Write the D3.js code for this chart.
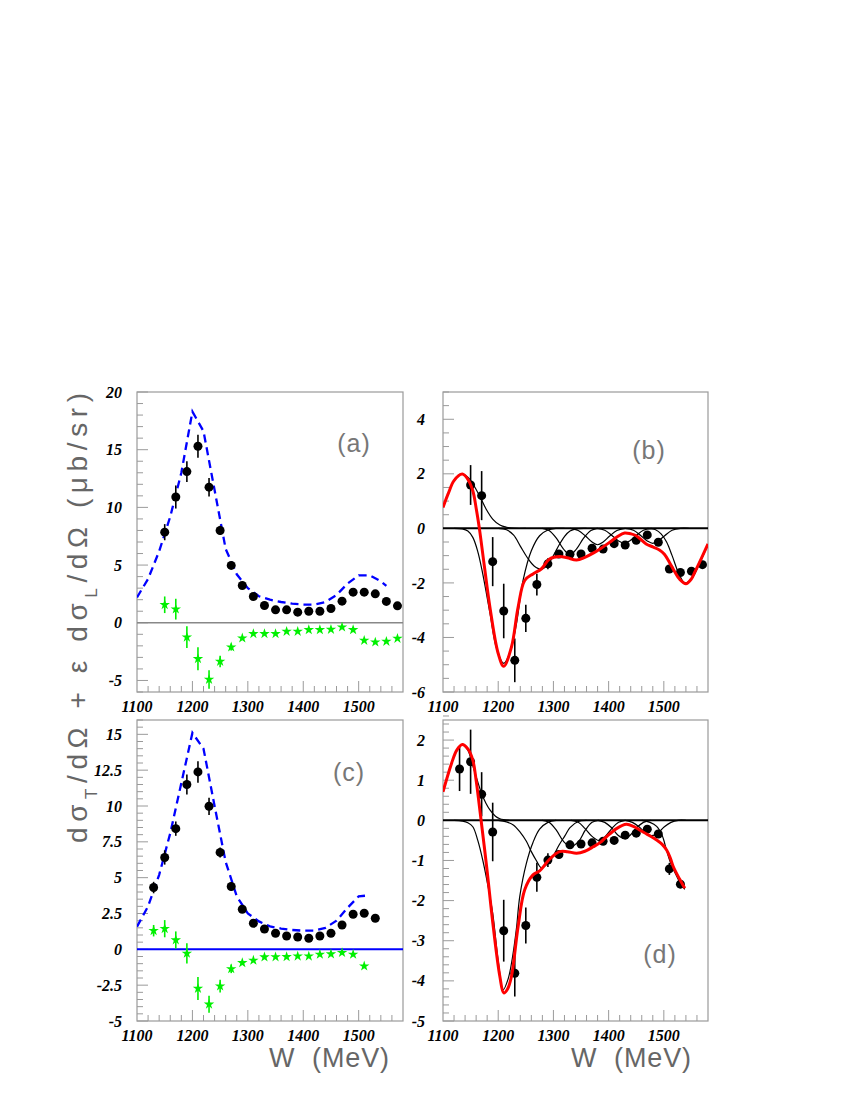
<!DOCTYPE html>
<html><head><meta charset="utf-8">
<script src="https://cdn.jsdelivr.net/npm/d3@7"></script>
<style>body{margin:0;background:#fff}svg{display:block}</style>
</head><body>
<script>
// ---------- DATA ----------
const wA = [1150,1170,1190,1210,1230,1250,1270,1290,1310,1330,1350,1370,1390,1410,1430,1450,1470,1490,1510,1530,1550,1570];
const aDots = [7.85,10.9,13.1,15.3,11.75,8.0,4.97,3.23,2.28,1.5,1.12,1.12,0.92,1.0,1.0,1.24,1.87,2.65,2.65,2.51,1.85,1.47];
const aDotsErr = [0.7,1.0,0.9,1.0,0.8,0.4,0.2,0.15,0.1,0.1,0.05,0.05,0.05,0.05,0.05,0.05,0.05,0.05,0.05,0.05,0.05,0.05];
const aStars = [1.56,1.18,-1.25,-3.12,-4.91,-3.35,-2.11,-1.33,-0.95,-0.95,-0.95,-0.75,-0.75,-0.61,-0.61,-0.58,-0.38,-0.61,-1.53,-1.68,-1.62,-1.36];
const aStarsErr = [0.72,0.9,0.94,1.0,0.8,0.5,0.3,0.15,0.1,0.05,0.05,0.05,0.05,0.05,0.05,0.05,0.05,0.05,0.05,0.05,0.05,0.05];
const aDashW = [1100,1120,1140,1160,1180,1200,1220,1240,1260,1280,1300,1320,1340,1360,1380,1400,1420,1440,1460,1480,1500,1520,1540,1550];
const aDashV = [2.2,3.8,6.2,9.2,13.0,18.3,16.6,11.5,6.4,4.2,3.0,2.3,2.0,1.8,1.65,1.58,1.58,1.8,2.4,3.4,4.1,4.1,3.6,3.2];

const wB = wA;
const bDots = [1.59,1.20,-1.22,-3.03,-4.84,-3.30,-2.06,-1.30,-0.94,-0.95,-0.94,-0.73,-0.76,-0.56,-0.61,-0.44,-0.24,-0.51,-1.49,-1.62,-1.57,-1.33];
const bDotsErr = [0.73,0.9,0.9,1.0,0.8,0.5,0.4,0.2,0.1,0.08,0.08,0.05,0.05,0.05,0.05,0.05,0.05,0.05,0.12,0.1,0.05,0.05];
const bRedW = [1100,1110,1120,1135,1145,1154,1160,1166,1175,1185,1200,1210,1224,1236,1248,1263,1278,1293,1311,1325,1342,1357,1372,1387,1402,1415,1429,1440,1450,1468,1480,1492,1501,1510,1520,1528,1540,1550,1556,1568,1580];
const bRedV = [0.77,1.3,1.75,1.99,1.8,1.38,0.75,-0.02,-1.4,-2.89,-4.59,-5.06,-4.35,-2.89,-1.91,-1.67,-1.49,-1.12,-1.03,-1.08,-1.16,-1.06,-0.91,-0.72,-0.51,-0.32,-0.17,-0.2,-0.27,-0.57,-0.68,-0.79,-0.95,-1.24,-1.6,-1.85,-2.03,-1.85,-1.61,-1.1,-0.57];
const bComp1 = [[1100,0.77],[1110,1.3],[1120,1.75],[1133,2.0],[1145,1.88],[1155,1.6],[1166,1.2],[1178,0.71],[1190,0.34],[1203,0.12],[1215,0.04],[1230,0],[1250,0]];
const bComp2 = [[1120,0],[1135,-0.02],[1145,-0.1],[1154,-0.33],[1163,-0.85],[1172,-1.67],[1185,-3.1],[1197,-4.4],[1210,-4.95],[1222,-4.5],[1233,-3.5],[1245,-1.91],[1260,-0.82],[1275,-0.27],[1290,-0.06],[1305,0],[1320,0]];
const bComp3 = [[1200,0],[1215,-0.05],[1228,-0.25],[1240,-0.65],[1252,-1.05],[1265,-1.38],[1278,-1.5],[1290,-1.33],[1300,-1.0],[1310,-0.62],[1320,-0.3],[1330,-0.1],[1345,-0.01],[1360,0]];
const bComp4 = [[1280,0],[1292,-0.08],[1305,-0.35],[1318,-0.75],[1330,-0.97],[1342,-0.75],[1355,-0.35],[1368,-0.08],[1380,0]];
const bComp5 = [[1330,0],[1345,-0.08],[1358,-0.28],[1370,-0.5],[1380,-0.6],[1390,-0.5],[1402,-0.28],[1415,-0.08],[1430,0]];
const bComp6 = [[1378,0],[1393,-0.07],[1406,-0.26],[1418,-0.46],[1428,-0.55],[1438,-0.46],[1450,-0.26],[1463,-0.07],[1478,0]];
const bComp7 = [[1430,0],[1445,-0.07],[1458,-0.26],[1470,-0.46],[1480,-0.55],[1490,-0.46],[1502,-0.26],[1515,-0.07],[1530,0],[1545,0]];
const bComp8 = [[1470,0],[1485,-0.05],[1495,-0.2],[1505,-0.5],[1515,-1.0],[1528,-1.7],[1538,-2.0],[1550,-1.85],[1560,-1.5],[1570,-1.05],[1580,-0.6]];

const wC = [1130,1150,1170,1190,1210,1230,1250,1270,1290,1310,1330,1350,1370,1390,1410,1430,1450,1470,1490,1510,1530];
const cDots = [4.31,6.41,8.42,11.5,12.38,9.98,6.76,4.38,2.8,1.82,1.42,1.12,0.93,0.86,0.77,0.93,1.12,1.70,2.45,2.52,2.17];
const cDotsErr = [0.4,0.5,0.5,0.7,0.75,0.6,0.35,0.3,0.15,0.1,0.05,0.05,0.05,0.05,0.05,0.05,0.05,0.05,0.05,0.05,0.05];
const wCStars = [1130,1150,1170,1190,1210,1230,1250,1270,1290,1310,1330,1350,1370,1390,1410,1430,1450,1470,1490,1510];
const cStars = [1.30,1.44,0.65,-0.28,-2.73,-3.83,-2.57,-1.36,-0.94,-0.77,-0.54,-0.53,-0.52,-0.48,-0.48,-0.35,-0.33,-0.23,-0.35,-1.17];
const cStarsErr = [0.4,0.6,0.6,0.7,0.8,0.6,0.45,0.3,0.1,0.05,0.05,0.05,0.05,0.05,0.05,0.05,0.05,0.05,0.05,0.05];
const cDashW = [1100,1120,1140,1160,1180,1200,1220,1240,1260,1280,1300,1320,1340,1360,1380,1400,1420,1440,1460,1480,1500,1515];
const cDashV = [1.58,3.0,5.2,8.1,11.6,15.1,14.0,10.0,6.1,3.7,2.5,1.95,1.6,1.45,1.35,1.3,1.3,1.5,2.0,2.9,3.7,3.75];

const wD = wC;
const dDots = [1.28,1.46,0.65,-0.29,-2.75,-3.81,-2.62,-1.42,-0.99,-0.85,-0.61,-0.59,-0.56,-0.52,-0.50,-0.37,-0.32,-0.22,-0.34,-1.21,-1.59];
const dDotsErr = [0.55,0.8,0.55,0.73,0.77,0.58,0.45,0.36,0.17,0.1,0.1,0.05,0.05,0.05,0.05,0.05,0.05,0.05,0.08,0.15,0.1];
const dRedW = [1100,1115,1125,1135,1145,1154,1160,1166,1179,1191,1203,1210,1217,1224,1236,1248,1263,1275,1293,1311,1325,1342,1357,1372,1385,1396,1415,1432,1445,1456,1470,1487,1497,1505,1512,1517,1528,1538];
const dRedV = [0.71,1.4,1.75,1.89,1.78,1.5,1.0,0.34,-1.15,-2.65,-3.89,-4.3,-4.2,-3.89,-2.65,-1.73,-1.36,-1.26,-0.97,-0.78,-0.78,-0.82,-0.77,-0.66,-0.55,-0.41,-0.2,-0.1,-0.15,-0.24,-0.35,-0.49,-0.6,-0.74,-0.95,-1.15,-1.45,-1.69];
const dComp1 = [[1100,0.71],[1115,1.4],[1125,1.75],[1135,1.88],[1145,1.75],[1154,1.36],[1162,1.0],[1170,0.67],[1178,0.42],[1185,0.26],[1195,0.1],[1203,0.04],[1220,0]];
const dComp2 = [[1120,0],[1135,-0.02],[1145,-0.06],[1154,-0.16],[1163,-0.5],[1172,-0.99],[1181,-1.6],[1190,-2.31],[1200,-3.5],[1209,-4.22],[1218,-3.95],[1226,-3.4],[1233,-2.7],[1239,-1.9],[1251,-1.07],[1263,-0.55],[1275,-0.22],[1290,-0.05],[1305,0]];
const dComp3 = [[1200,0],[1215,-0.04],[1228,-0.12],[1240,-0.3],[1251,-0.52],[1260,-0.78],[1269,-1.0],[1278,-1.18],[1290,-1.08],[1300,-0.88],[1310,-0.62],[1321,-0.38],[1330,-0.18],[1345,-0.03],[1360,0]];
const dComp4 = [[1280,0],[1292,-0.05],[1305,-0.24],[1318,-0.52],[1332,-0.66],[1346,-0.52],[1358,-0.24],[1370,-0.05],[1382,0]];
const dComp5 = [[1332,0],[1345,-0.05],[1357,-0.2],[1370,-0.4],[1382,-0.5],[1394,-0.4],[1406,-0.2],[1418,-0.05],[1430,0]];
const dComp6 = [[1380,0],[1393,-0.05],[1405,-0.18],[1417,-0.37],[1428,-0.45],[1439,-0.37],[1451,-0.18],[1463,-0.05],[1476,0]];
const dComp7 = [[1430,0],[1443,-0.05],[1455,-0.16],[1467,-0.32],[1478,-0.38],[1489,-0.32],[1501,-0.16],[1513,-0.05],[1526,0],[1540,0]];
const dComp8 = [[1460,0],[1475,-0.05],[1487,-0.15],[1497,-0.38],[1505,-0.75],[1512,-1.05],[1520,-1.3],[1528,-1.52],[1538,-1.72]];

const xTicks = [1100,1200,1300,1400,1500];
const aYTicks = [-5,0,5,10,15,20];
const bYTicks = [-6,-4,-2,0,2,4];
const cYTicks = [-5,-2.5,0,2.5,5,7.5,10,12.5,15];
const dYTicks = [-5,-4,-3,-2,-1,0,1,2];

// ---------- DRAW ----------
const svg = d3.select("body").append("svg").attr("width",850).attr("height",1100);
const FR = "#9a9a9a";

function panel(opt){
  const x = d3.scaleLinear().domain([1100,1580]).range([opt.x0,opt.x1]);
  const y = d3.scaleLinear().domain(opt.ydom).range([opt.y1,opt.y0]);
  const g = svg.append("g");
  const cid = "clip"+opt.id;
  svg.append("clipPath").attr("id",cid).append("rect")
    .attr("x",opt.x0).attr("y",opt.y0).attr("width",opt.x1-opt.x0).attr("height",opt.y1-opt.y0);
  g.append("rect").attr("x",opt.x0).attr("y",opt.y0).attr("width",opt.x1-opt.x0).attr("height",opt.y1-opt.y0)
    .attr("fill","none").attr("stroke",FR).attr("stroke-width",1.2);
  const xminor = d3.range(1120,1580,20);
  g.selectAll(null).data(xminor).enter().append("line")
    .attr("x1",d=>x(d)).attr("x2",d=>x(d)).attr("y1",opt.y1)
    .attr("y2",d=>opt.y1-(d%100===0?11:6)).attr("stroke",FR).attr("stroke-width",1);
  g.selectAll(null).data(xTicks).enter().append("text")
    .attr("x",d=>x(d)).attr("y",opt.y1+14).attr("dy","0.35em").attr("text-anchor","middle")
    .attr("font-family","Liberation Serif").attr("font-weight","bold").attr("font-style","italic")
    .attr("font-size",16).text(d=>d);
  const [ya,yb] = opt.ydom;
  const ym = d3.range(Math.round(ya/opt.ystep), Math.round(yb/opt.ystep)+1).map(k=>+(k*opt.ystep).toFixed(3));
  const isMajor = v => opt.yticks.some(t=>Math.abs(t-v)<1e-6);
  g.selectAll(null).data(ym).enter().append("line")
    .attr("x1",opt.x0).attr("x2",d=>opt.x0+(isMajor(d)?11:6))
    .attr("y1",d=>y(d)).attr("y2",d=>y(d)).attr("stroke",FR).attr("stroke-width",1);
  g.selectAll(null).data(opt.yticks).enter().append("text")
    .attr("x",opt.x0-opt.lblOff).attr("y",d=>y(d)).attr("dy","0.35em").attr("text-anchor","end")
    .attr("font-family","Liberation Serif").attr("font-weight","bold").attr("font-style","italic")
    .attr("font-size",16).text(d=>d);
  const pg = g.append("g").attr("clip-path",`url(#${cid})`);
  pg.append("line").attr("x1",opt.x0).attr("x2",opt.x1).attr("y1",y(0)).attr("y2",y(0))
    .attr("stroke",opt.zeroColor).attr("stroke-width",opt.zeroW);
  g.append("text").attr("x",opt.lx).attr("y",opt.ly).attr("dy","0.35em").attr("text-anchor","middle")
    .attr("font-family","Liberation Sans").attr("font-size",25).attr("fill","#777")
    .attr("letter-spacing",1).text(opt.letter);
  return {x,y,g:pg};
}

function dashed(p, W, V){
  p.g.append("path").datum(W.map((w,i)=>[w,V[i]]))
    .attr("d",d3.line().x(d=>p.x(d[0])).y(d=>p.y(d[1])))
    .attr("fill","none").attr("stroke","#0000ff").attr("stroke-width",2.3).attr("stroke-dasharray","8,5");
}
function smooth(p, pts, color, width){
  p.g.append("path").datum(pts)
    .attr("d",d3.line().x(d=>p.x(d[0])).y(d=>p.y(d[1])).curve(d3.curveCatmullRom.alpha(0.5)))
    .attr("fill","none").attr("stroke",color).attr("stroke-width",width).attr("stroke-linejoin","round");
}
function dots(p, W, V, E){
  const gg = p.g.append("g");
  W.forEach((w,i)=>{
    gg.append("line").attr("x1",p.x(w)).attr("x2",p.x(w)).attr("y1",p.y(V[i]-E[i])).attr("y2",p.y(V[i]+E[i]))
      .attr("stroke","#000").attr("stroke-width",1.6);
    gg.append("circle").attr("cx",p.x(w)).attr("cy",p.y(V[i])).attr("r",4.5).attr("fill","#000");
  });
}
function stars(p, W, V, E){
  const gg = p.g.append("g");
  const sym = d3.symbol().type(d3.symbolStar).size(34);
  W.forEach((w,i)=>{
    gg.append("line").attr("x1",p.x(w)).attr("x2",p.x(w)).attr("y1",p.y(V[i]-E[i])).attr("y2",p.y(V[i]+E[i]))
      .attr("stroke","#00f000").attr("stroke-width",1.6);
    gg.append("path").attr("d",sym).attr("transform",`translate(${p.x(w)},${p.y(V[i])})`).attr("fill","#00f000");
  });
}

const pa = panel({id:"a",x0:137,x1:403,y0:392,y1:692,ydom:[-6,20],ystep:1,yticks:aYTicks,lblOff:15,
  zeroColor:"#888",zeroW:1.6,letter:"(a)",lx:354,ly:443});
dashed(pa,aDashW,aDashV);
dots(pa,wA,aDots,aDotsErr);
stars(pa,wA,aStars,aStarsErr);

const pb = panel({id:"b",x0:443,x1:708,y0:392,y1:692,ydom:[-6,5],ystep:0.5,yticks:bYTicks,lblOff:18,
  zeroColor:"#000",zeroW:2,letter:"(b)",lx:649,ly:450});
[bComp1,bComp2,bComp3,bComp4,bComp5,bComp6,bComp7,bComp8].forEach(c=>smooth(pb,c,"#000",1.2));
dots(pb,wB,bDots,bDotsErr);
smooth(pb,bRedW.map((w,i)=>[w,bRedV[i]]),"#ff0000",3);

const pc = panel({id:"c",x0:137,x1:403,y0:720,y1:1021,ydom:[-5,16],ystep:0.5,yticks:cYTicks,lblOff:15,
  zeroColor:"#0000ff",zeroW:2,letter:"(c)",lx:349,ly:772});
dashed(pc,cDashW,cDashV);
dots(pc,wC,cDots,cDotsErr);
stars(pc,wCStars,cStars,cStarsErr);

const pd = panel({id:"d",x0:443,x1:708,y0:720,y1:1021,ydom:[-5,2.5],ystep:0.2,yticks:dYTicks,lblOff:18,
  zeroColor:"#000",zeroW:2,letter:"(d)",lx:660,ly:954});
[dComp1,dComp2,dComp3,dComp4,dComp5,dComp6,dComp7,dComp8].forEach(c=>smooth(pd,c,"#000",1.2));
dots(pd,wD,dDots,dDotsErr);
smooth(pd,dRedW.map((w,i)=>[w,dRedV[i]]),"#ff0000",3);

// axis titles
const yt = svg.append("text").attr("transform","translate(87,618) rotate(-90)").attr("text-anchor","middle")
  .attr("font-family","Liberation Sans").attr("font-size",28).attr("fill","#666")
  .attr("textLength",450).attr("lengthAdjust","spacing");
yt.append("tspan").text("dσ");
yt.append("tspan").attr("baseline-shift","sub").attr("font-size",17).text("T");
yt.append("tspan").text("/dΩ + ε dσ");
yt.append("tspan").attr("baseline-shift","sub").attr("font-size",17).text("L");
yt.append("tspan").text("/dΩ (μb/sr)");

[329,631].forEach(cx=>{
  svg.append("text").attr("x",cx).attr("y",1067).attr("text-anchor","middle")
    .attr("font-family","Liberation Sans").attr("font-size",27).attr("fill","#666")
    .attr("textLength",120).attr("lengthAdjust","spacing")
    .attr("xml:space","preserve").style("white-space","pre").text("W  (MeV)");
});
</script>
</body></html>
